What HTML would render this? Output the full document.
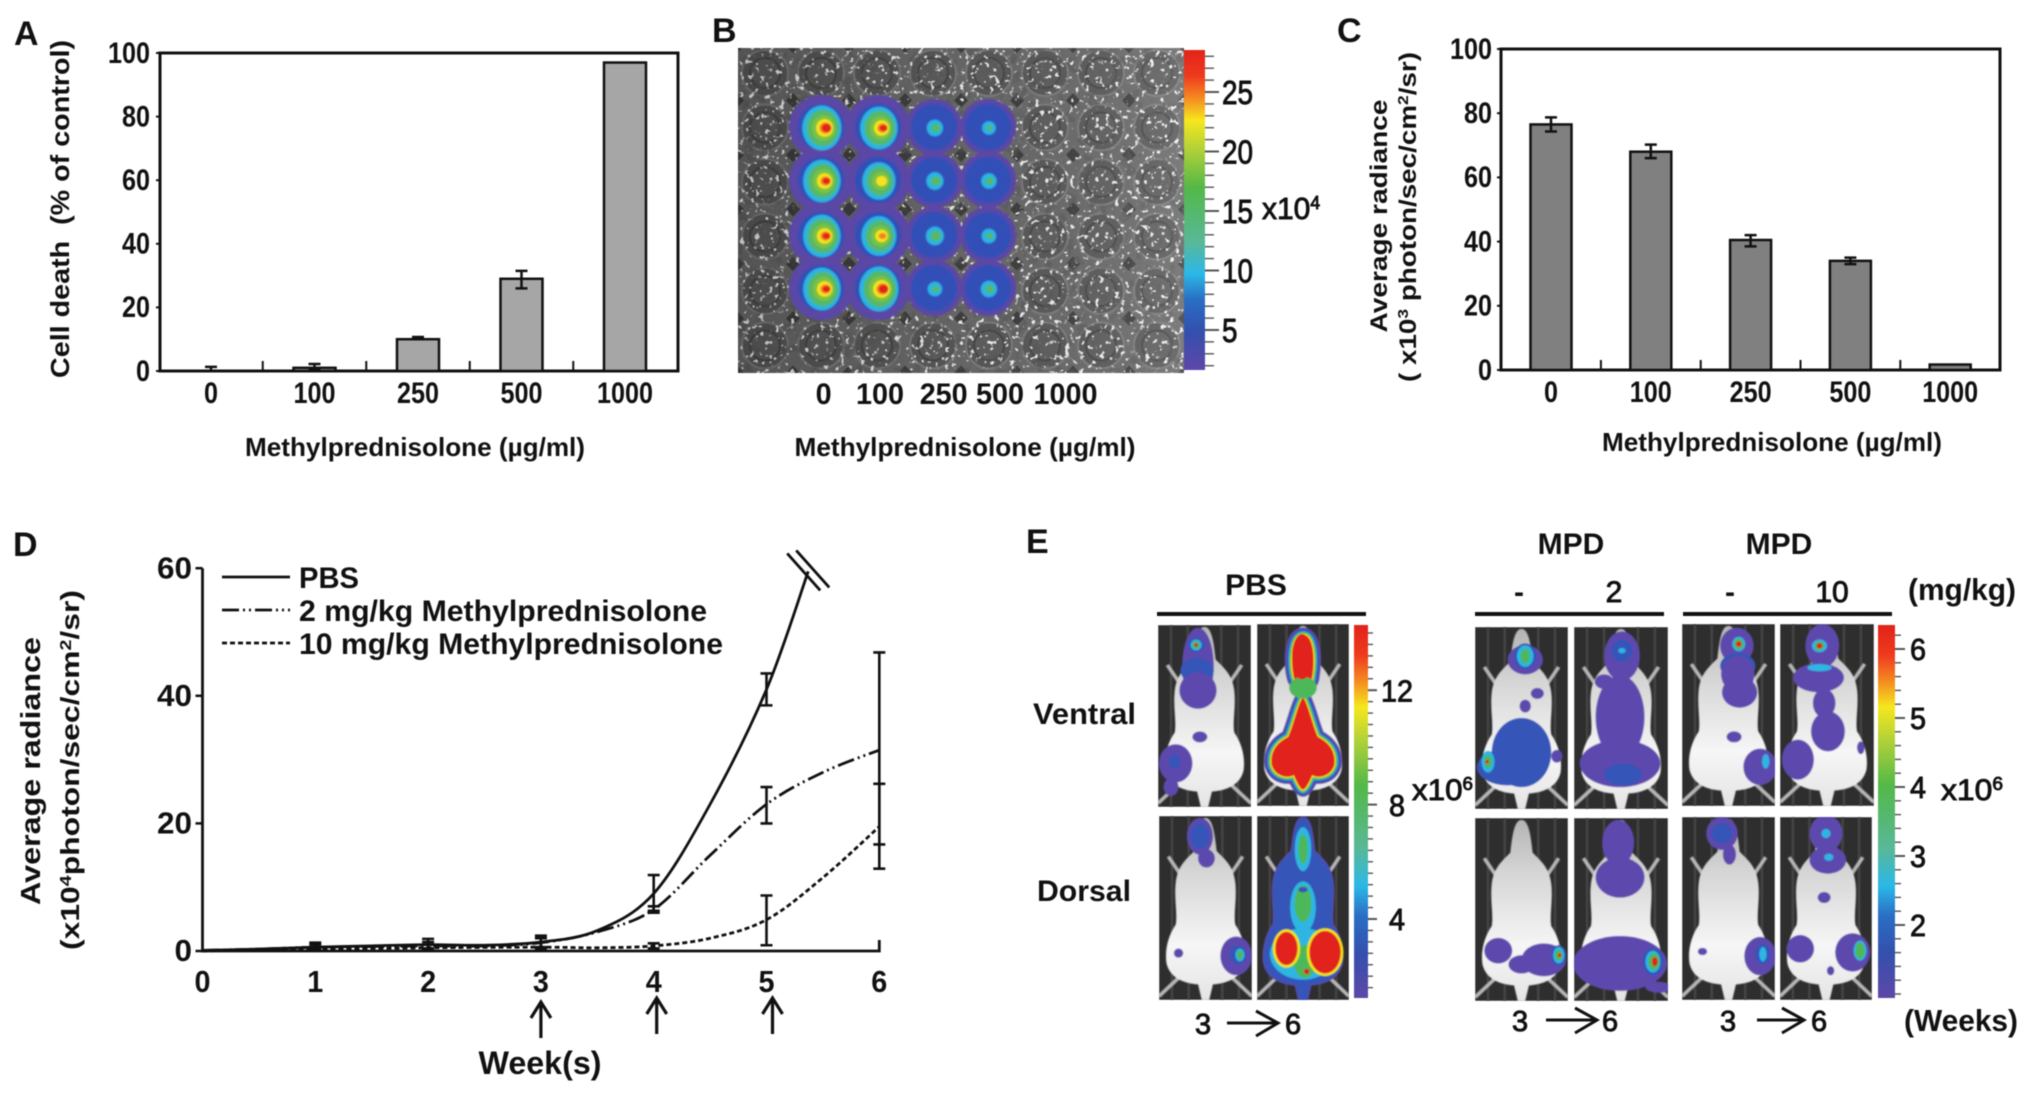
<!DOCTYPE html>
<html lang="en">
<head>
<meta charset="utf-8">
<title>Methylprednisolone figure</title>
<style>
html,body{margin:0;padding:0;background:#fff;width:2031px;height:1097px;overflow:hidden}
svg#fig{display:block;filter:blur(0.55px)}
text{font-family:"Liberation Sans",Arial,sans-serif;fill:#111}
.b{font-weight:700}
</style>
</head>
<body>
<svg id="fig" xmlns="http://www.w3.org/2000/svg" width="2031" height="1097" viewBox="0 0 2031 1097">
<defs>
<linearGradient id="rainbow" x1="0" y1="0" x2="0" y2="1">
<stop offset="0" stop-color="#e2231a"/><stop offset=".08" stop-color="#ee3a1e"/><stop offset=".15" stop-color="#f58a20"/><stop offset=".22" stop-color="#f6e71e"/><stop offset=".32" stop-color="#a9cf3a"/><stop offset=".43" stop-color="#54b848"/><stop offset=".6" stop-color="#58b898"/><stop offset=".7" stop-color="#2bb8e8"/><stop offset=".78" stop-color="#2a6ec4"/><stop offset=".88" stop-color="#3350ad"/><stop offset="1" stop-color="#5f47a8"/>
</linearGradient>
<linearGradient id="bodyGrad" x1="0" y1="0" x2="0" y2="1">
<stop offset="0" stop-color="#b4b4b4"/><stop offset=".3" stop-color="#d6d6d6"/><stop offset=".7" stop-color="#f6f6f6"/><stop offset="1" stop-color="#e4e4e4"/>
</linearGradient>
<linearGradient id="plateShade" x1="0" y1="0" x2="1" y2="0">
<stop offset="0" stop-color="#000" stop-opacity=".22"/><stop offset=".55" stop-color="#000" stop-opacity=".04"/><stop offset="1" stop-color="#fff" stop-opacity=".12"/>
</linearGradient>
<pattern id="wellPattern" patternUnits="userSpaceOnUse" x="737" y="46" width="56" height="54.5">
<rect width="56" height="54.5" fill="#6b6b6b"/>
<circle cx="28" cy="27" r="23" fill="#5a5a5a" stroke="#7d7d7d" stroke-width="2"/>
<circle cx="28" cy="27" r="15" fill="#5f5f5f" stroke="#484848" stroke-width="2"/>
<path d="M0 0L7 0L0 7ZM56 0L49 0L56 7ZM0 54.5L7 54.5L0 47ZM56 54.5L49 54.5L56 47Z" fill="#404040"/>
<g fill="#ddd"><circle cx="12" cy="10" r="1.4"/><circle cx="20" cy="18" r="1.1"/><circle cx="40" cy="8" r="1.3"/><circle cx="46" cy="20" r="1"/><circle cx="34" cy="24" r="1.5"/><circle cx="24" cy="36" r="1"/><circle cx="38" cy="40" r="1.4"/><circle cx="10" cy="38" r="1.2"/><circle cx="50" cy="46" r="1.1"/></g>
</pattern>
<filter id="speckLight" x="0" y="0" width="100%" height="100%"><feTurbulence type="fractalNoise" baseFrequency="0.2" numOctaves="2" seed="4"/><feColorMatrix type="matrix" values="0 0 0 0 1  0 0 0 0 1  0 0 0 0 1  7 7 0 0 -8.2"/></filter>
<filter id="speckDark" x="0" y="0" width="100%" height="100%"><feTurbulence type="fractalNoise" baseFrequency="0.09" numOctaves="2" seed="9"/><feColorMatrix type="matrix" values="0 0 0 0 0.1  0 0 0 0 0.1  0 0 0 0 0.1  5 5 0 0 -5.4"/></filter>
<filter id="soft" x="-5%" y="-5%" width="110%" height="110%"><feGaussianBlur stdDeviation="0.7"/></filter>
</defs>

<rect width="2031" height="1097" fill="#fff"/>

<!-- Panel letters -->
<text class="b" x="14" y="45" font-size="34">A</text>
<text class="b" x="712" y="42" font-size="34">B</text>
<text class="b" x="1337" y="42" font-size="34">C</text>
<text class="b" x="13" y="556" font-size="34">D</text>
<text class="b" x="1026" y="553" font-size="34">E</text>

<!-- Panel A titles -->
<g id="panelA"></g>
<text class="b" x="415" y="456" font-size="26" text-anchor="middle" textLength="340" lengthAdjust="spacingAndGlyphs">Methylprednisolone (µg/ml)</text>
<text class="b" transform="translate(69,209) rotate(-90)" font-size="26" text-anchor="middle" textLength="338" lengthAdjust="spacingAndGlyphs">Cell death &#160;(% of control)</text>

<!-- Panel B -->
<g id="panelB"></g>
<text class="b" x="965" y="456" font-size="26" text-anchor="middle" textLength="341" lengthAdjust="spacingAndGlyphs">Methylprednisolone (µg/ml)</text>
<text x="1262" y="219" font-size="31" stroke="#111" stroke-width=".9" textLength="58" lengthAdjust="spacingAndGlyphs">x10<tspan dy="-10" font-size="18">4</tspan></text>

<!-- Panel C -->
<g id="panelC"></g>
<text class="b" x="1772" y="451" font-size="26" text-anchor="middle" textLength="340" lengthAdjust="spacingAndGlyphs">Methylprednisolone (µg/ml)</text>
<text class="b" transform="translate(1387,216) rotate(-90)" font-size="24" text-anchor="middle" textLength="233" lengthAdjust="spacingAndGlyphs">Average radiance</text>
<text class="b" transform="translate(1416,217) rotate(-90)" font-size="24" text-anchor="middle" textLength="330" lengthAdjust="spacingAndGlyphs">( x10<tspan dy="-8" font-size="15">3</tspan><tspan dy="8"> photon/sec/cm</tspan><tspan dy="-8" font-size="15">2</tspan><tspan dy="8">/sr)</tspan></text>

<!-- Panel D -->
<g id="panelD"></g>
<text class="b" x="540" y="1074" font-size="32" text-anchor="middle" textLength="123" lengthAdjust="spacingAndGlyphs">Week(s)</text>
<text class="b" transform="translate(40,771) rotate(-90)" font-size="28" text-anchor="middle" textLength="268" lengthAdjust="spacingAndGlyphs">Average radiance</text>
<text class="b" transform="translate(79,770) rotate(-90)" font-size="26" text-anchor="middle" textLength="360" lengthAdjust="spacingAndGlyphs">(x10<tspan dy="-8" font-size="16">4</tspan><tspan dy="8">photon/sec/cm</tspan><tspan dy="-8" font-size="16">2</tspan><tspan dy="8">/sr)</tspan></text>
<line x1="222" y1="577" x2="290" y2="577" stroke="#111" stroke-width="2.8"/>
<line x1="222" y1="610" x2="290" y2="610" stroke="#111" stroke-width="2.8" stroke-dasharray="17 4 2 4 2 4"/>
<line x1="222" y1="643" x2="290" y2="643" stroke="#111" stroke-width="2.8" stroke-dasharray="5 3"/>
<text class="b" x="299" y="588" font-size="30" textLength="60" lengthAdjust="spacingAndGlyphs">PBS</text>
<text class="b" x="299" y="621" font-size="30" textLength="408" lengthAdjust="spacingAndGlyphs">2 mg/kg Methylprednisolone</text>
<text class="b" x="299" y="654" font-size="30" textLength="424" lengthAdjust="spacingAndGlyphs">10 mg/kg Methylprednisolone</text>

<!-- Panel E -->
<g id="panelE"></g>
<text class="b" x="1256" y="595" font-size="30" text-anchor="middle">PBS</text>
<text class="b" x="1571" y="554" font-size="30" text-anchor="middle">MPD</text>
<text class="b" x="1779" y="554" font-size="30" text-anchor="middle">MPD</text>
<text class="b" x="1519" y="602" font-size="30" text-anchor="middle">-</text>
<text x="1614" y="602" font-size="30" text-anchor="middle" stroke="#111" stroke-width=".9">2</text>
<text class="b" x="1730" y="602" font-size="30" text-anchor="middle">-</text>
<text x="1832" y="602" font-size="30" text-anchor="middle" stroke="#111" stroke-width=".9">10</text>
<text class="b" x="1908" y="600" font-size="31" textLength="108" lengthAdjust="spacingAndGlyphs">(mg/kg)</text>
<line x1="1157" y1="614" x2="1366" y2="614" stroke="#111" stroke-width="4"/>
<line x1="1475" y1="614" x2="1664" y2="614" stroke="#111" stroke-width="4"/>
<line x1="1683" y1="614" x2="1892" y2="614" stroke="#111" stroke-width="4"/>
<text class="b" x="1033" y="724" font-size="30" textLength="103" lengthAdjust="spacingAndGlyphs">Ventral</text>
<text class="b" x="1037" y="901" font-size="30" textLength="94" lengthAdjust="spacingAndGlyphs">Dorsal</text>
<text x="1412" y="800" font-size="30" stroke="#111" stroke-width=".9" textLength="61" lengthAdjust="spacingAndGlyphs">x10<tspan dy="-10" font-size="18">6</tspan></text>
<text x="1941" y="800" font-size="30" stroke="#111" stroke-width=".9" textLength="62" lengthAdjust="spacingAndGlyphs">x10<tspan dy="-10" font-size="18">6</tspan></text>
<text class="b" x="1904" y="1031" font-size="31" textLength="114" lengthAdjust="spacingAndGlyphs">(Weeks)</text>
<g>
<text x="1195" y="1034" font-size="29" stroke="#111" stroke-width=".9">3</text>
<path d="M1227 1023H1277M1256 1011L1278 1023L1256 1036" fill="none" stroke="#111" stroke-width="3"/>
<text x="1285" y="1034" font-size="29" stroke="#111" stroke-width=".9">6</text>
</g>
<g>
<text x="1512" y="1031" font-size="29" stroke="#111" stroke-width=".9">3</text>
<path d="M1546 1020H1596M1575 1008L1597 1020L1575 1033" fill="none" stroke="#111" stroke-width="3"/>
<text x="1602" y="1031" font-size="29" stroke="#111" stroke-width=".9">6</text>
</g>
<g>
<text x="1720" y="1031" font-size="29" stroke="#111" stroke-width=".9">3</text>
<path d="M1757 1020H1803M1782 1008L1804 1020L1782 1033" fill="none" stroke="#111" stroke-width="3"/>
<text x="1811" y="1031" font-size="29" stroke="#111" stroke-width=".9">6</text>
</g>
</svg>

<script>
/* ---------- Panel A data ---------- */
var doseCategories = ['0','100','250','500','1000'];
var cellDeathValues = [0,1,10,29,97];
var cellDeathErrHigh = [1.3,2.2,10.7,31.5,97];
var cellDeathErrLow = [0,0.4,10,26,97];
var cellDeathTicks = [0,20,40,60,80,100];
/* ---------- Panel B data ---------- */
var plateDoseLabels = ['0','100','250','500','1000'];
var plateReplicateA = [27.5,26.5,14,12.5];
var plateReplicateB = [26.5,24,14.5,13.5];
var plateReplicateC = [26.5,25,15,13];
var plateReplicateD = [26.5,27.5,13,14];
var plateBarLabels = [25,20,15,10,5];
/* ---------- Panel C data ---------- */
var radianceValues = [76.5,68,40.5,34,1.7];
var radianceErrHigh = [78.7,70.2,42,35,1.7];
var radianceErrLow = [74.3,66,38.5,33,1.7];
var radianceTicks = [0,20,40,60,80,100];
/* ---------- Panel D data ---------- */
var weekTicks = [0,1,2,3,4,5,6];
var growthTicks = [0,20,40,60];
var pbsWeeks = [0,0.5,1,1.5,2,2.5,3,3.5,4,4.5,5,5.37];
var pbsValues = [0.1,0.3,0.6,0.8,1,0.9,1.4,3.2,9,23,41,59.5];
var mpd2Weeks = [0,0.5,1,1.5,2,2.5,3,3.5,4,4.5,5,5.5,6];
var mpd2Values = [0.1,0.3,0.6,0.7,0.8,0.8,1.3,3,6.5,15,23,28,31.5];
var mpd10Weeks = [0,1,2,3,3.5,4,4.5,5,5.5,6];
var mpd10Values = [0,0.3,0.5,0.6,0.5,0.8,2,4.9,11.5,19.5];
var errorWeeksPbs = [1,2,3,4,5];
var pbsErrHigh = [1.3,1.9,2.4,11.9,43.5];
var pbsErrLow = [0.1,0.2,0.3,6.3,38.5];
var errorWeeksMpd2 = [1,2,3,4,5,6];
var mpd2ErrHigh = [1,1.4,2,7,25.7,46.8];
var mpd2ErrLow = [0.3,0.4,0.6,6,20,16.7];
var errorWeeksMpd10 = [4,5,6];
var mpd10ErrHigh = [1.2,8.7,26.2];
var mpd10ErrLow = [0.4,0.9,12.9];
var dosingWeeks = [3,4,5];
/* ---------- Panel E data: signal regions, [cx,cy,rx,ry,level] in photo units ---------- */
var pbsV3 = [[43,45,17,42,'P'],[42,50,18,14,'B'],[43,72,20,20,'P'],[45,123,8,6,'P'],[19,152,18,21,'P'],[18,150,6,8,'B'],[14,178,8,10,'P'],[41,22,9,8,'B'],[41,22,6,6,'C'],[41,22,4,4,'G'],[41,22,2,2,'R']];
var pbsV6Hot = [[50,70,15,12,'G'],[49,36,11,25,'R']];
var pbsD3 = [[44,22,14,20,'P'],[44,22,10,14,'B'],[51,46,9,10,'P'],[21,149,5,5,'P'],[83,152,17,21,'P'],[85,151,9,10,'B'],[87,151,5,7,'C'],[87,151,3,5,'G']];
var pbsD6 = [[50,36,9,24,'C'],[50,36,5,16,'G'],[50,99,14,28,'C'],[50,95,9,20,'G'],[50,80,5,3,'B'],[50,150,36,28,'C'],[52,158,12,18,'G'],[32,144,15,21,'Y'],[74,148,20,26,'Y'],[32,144,12,18,'R'],[74,148,17,23,'R'],[54,169,3,3,'R']];
var mpd2V3 = [[54,36,19,16,'P'],[54,32,12,14,'B'],[54,32,9,12,'C'],[54,32,5,8,'G'],[50,138,32,38,'B'],[35,154,33,20,'B'],[14,148,7,12,'C'],[14,148,4,7,'G'],[13,148,2,2,'R'],[67,73,7,6,'P'],[54,87,6,7,'P'],[88,142,6,7,'P']];
var mpd2V6 = [[51,32,19,27,'P'],[51,26,11,12,'B'],[51,26,4,3,'C'],[49,99,26,46,'P'],[49,150,43,26,'P'],[32,60,10,8,'P'],[52,162,20,12,'B']];
var mpd2D3 = [[25,145,15,14,'P'],[74,155,24,18,'P'],[50,160,14,10,'P'],[90,150,8,11,'B'],[90,150,6,9,'C'],[90,150,4,6,'G'],[91,150,2,2,'R']];
var mpd2D6 = [[47,27,17,25,'P'],[49,65,26,22,'P'],[49,159,50,30,'P'],[84,157,11,15,'B'],[84,157,8,12,'C'],[85,157,6,9,'G'],[86,157,3,5,'R'],[90,185,14,6,'P']];
var mpd10V3 = [[59,24,18,20,'P'],[60,46,19,14,'B'],[62,75,19,17,'P'],[60,55,18,20,'P'],[56,124,8,6,'P'],[84,157,18,20,'P'],[90,151,4,8,'C'],[61,22,7,8,'C'],[61,22,5,6,'G'],[61,22,3,3,'R']];
var mpd10V6 = [[45,24,18,24,'P'],[41,59,27,16,'P'],[47,87,12,16,'P'],[51,118,18,22,'P'],[19,149,17,22,'P'],[86,136,4,7,'P'],[42,48,13,4,'C'],[42,24,8,7,'C'],[42,24,5,5,'G'],[42,24,3,3,'R']];
var mpd10D3 = [[43,18,17,18,'P'],[43,18,11,11,'B'],[51,41,7,11,'P'],[22,147,5,4,'P'],[84,152,17,21,'P'],[87,150,8,11,'B'],[87,150,4,8,'C']];
var mpd10D6 = [[50,18,18,20,'P'],[52,47,20,15,'P'],[50,18,5,5,'C'],[53,44,5,4,'C'],[48,88,7,6,'P'],[22,144,15,15,'P'],[79,148,19,21,'P'],[87,146,7,11,'C'],[87,146,5,9,'G'],[55,168,4,5,'P']];
var pbsBarLabels = [12,8,4];
var mpdBarLabels = [6,5,4,3,2];

/* ---------- helpers ---------- */
var SVGNS = 'http://www.w3.org/2000/svg';
function mk(tag, attrs, parent){
  var n = document.createElementNS(SVGNS, tag);
  for (var k in attrs){ n.setAttribute(k, attrs[k]); }
  parent.appendChild(n);
  return n;
}
function label(parent, str, x, yc, fs, anchor, len, bold){
  var t = mk('text', {x:x, y:yc + fs*0.36, 'font-size':fs, 'text-anchor':anchor}, parent);
  if (bold){ t.setAttribute('font-weight','700'); } else { t.setAttribute('stroke','#111'); t.setAttribute('stroke-width','.9'); }
  if (len){ t.setAttribute('textLength',len); t.setAttribute('lengthAdjust','spacingAndGlyphs'); }
  t.textContent = str;
  return t;
}
function errorBar(parent, x, yHi, yLo, cap, w){
  return mk('path', {d:'M'+(x-cap)+' '+yHi+'H'+(x+cap)+'M'+x+' '+yHi+'V'+yLo+'M'+(x-cap)+' '+yLo+'H'+(x+cap), fill:'none', stroke:'#111', 'stroke-width':w}, parent);
}

/* ---------- bar chart builder ---------- */
function barChart(g, prefix, cfg){
  var box = mk('rect', {x:cfg.left, y:cfg.yTop, width:cfg.right-cfg.left, height:cfg.yBottom-cfg.yTop, fill:'none', stroke:'#111', 'stroke-width':3}, g);
  
  
  function yS(v){ return cfg.yBottom - v/100*(cfg.yBottom-cfg.yTop); }
  function xS(i){ return cfg.x0 + i*cfg.step; }
  cfg.ticks.forEach(function(v){
    var tk = mk('line', {x1:cfg.left-4, x2:cfg.left, y1:yS(v), y2:yS(v), stroke:'#111', 'stroke-width':2}, g);
    
    
    var tl = label(g, String(v), cfg.labelRight, yS(v)-1, 30, 'end', String(v).length*14, true);
    
    
  });
  doseCategories.forEach(function(c,i){
    var v = cfg.values[i];
    var r = mk('rect', {x:xS(i)-cfg.bw/2, y:yS(v), width:cfg.bw, height:yS(0)-yS(v), fill:cfg.fill, stroke:'#111', 'stroke-width':2.5}, g);
    
    
    if (cfg.hi[i] !== cfg.lo[i]){
      var e = errorBar(g, xS(i), yS(cfg.hi[i]), yS(cfg.lo[i]), 6, 2.5);
      
      
    }
    var tl = label(g, c, xS(i), cfg.yBottom+21, 30, 'middle', c.length*14, true);
    
    
    if (i < doseCategories.length-1){
      var sp = mk('line', {x1:xS(i)+cfg.step/2, x2:xS(i)+cfg.step/2, y1:cfg.yBottom-10, y2:cfg.yBottom, stroke:'#111', 'stroke-width':2}, g);
      
      
    }
  });
}
barChart(document.getElementById('panelA'), 'cell-death', {left:160,right:678,yTop:53,yBottom:371,x0:211,step:103.5,bw:42,fill:'#a6a6a6',values:cellDeathValues,hi:cellDeathErrHigh,lo:cellDeathErrLow,ticks:cellDeathTicks,labelRight:150});
barChart(document.getElementById('panelC'), 'radiance', {left:1501,right:2000,yTop:49,yBottom:370,x0:1551,step:99.8,bw:41,fill:'#808080',values:radianceValues,hi:radianceErrHigh,lo:radianceErrLow,ticks:radianceTicks,labelRight:1492});

/* ---------- colorbar builder ---------- */
function colorbar(g, prefix, x, w, yTop, yBottom, yOf, vMin, vMax, minorStep, labels, majorEnd, minorEnd, labelX, fs, anchor, digitW){
  var bar = mk('rect', {x:x, y:yTop, width:w, height:yBottom-yTop, fill:'url(#rainbow)'}, g);
  
  
  var n = Math.round((vMax-vMin)/minorStep);
  for (var i=0;i<=n;i++){
    var v = vMin + i*minorStep;
    var isMajor = labels.some(function(m){ return Math.abs(m-v) < 1e-6; });
    var t = mk('line', {x1:x+w, x2:isMajor?majorEnd:minorEnd, y1:yOf(v), y2:yOf(v), stroke:'#555', 'stroke-width':isMajor?2:1.4}, g);
    
    
  }
  labels.forEach(function(v){
    var tl = label(g, String(v), labelX, yOf(v), fs, anchor, String(v).length*digitW, false);
    
    
  });
}

/* ---------- Panel B ---------- */
(function(){
  var g = document.getElementById('panelB');
  var plate = mk('rect', {x:738,y:48,width:446,height:325,fill:'url(#wellPattern)'}, g);
  
  
  var dark = mk('rect', {x:738,y:48,width:446,height:325,filter:'url(#speckDark)',opacity:.55}, g);
  
  
  var light = mk('rect', {x:738,y:48,width:446,height:325,filter:'url(#speckLight)',opacity:.9}, g);
  
  
  var shade = mk('rect', {x:738,y:48,width:446,height:325,fill:'url(#plateShade)'}, g);
  
  
  var colX = [821,878,934,988];
  var rowY = [127,180,235,288];
  var rows = [plateReplicateA,plateReplicateB,plateReplicateC,plateReplicateD];
  var heat = mk('g', {filter:'url(#soft)'}, g);
  
  
  rows.forEach(function(row,r){ row.forEach(function(val,c){
    var halo = mk('circle', {cx:colX[c],cy:rowY[r],r:c<2?32:28,fill:'#5a47a6'}, heat);
    
    
  });});
  var levels = [[0,'#3350b8'],[8,'#2bb4e4'],[12,'#55b86a'],[17,'#7cc143'],[21,'#f3e41e'],[24,'#f58220'],[25.5,'#e2231a']];
  rows.forEach(function(row,r){ row.forEach(function(val,c){
    levels.forEach(function(l,li){
      if (val <= l[0]){ return; }
      var k = li === 0 ? 1 : (val-l[0])/20;
      var ring = mk('ellipse', {cx:colX[c]+(li===0?0:li*0.9), cy:rowY[r]+(li===0?0:1), rx:li===0?23:3+k*17, ry:li===0?23:2+k*21, fill:l[1]}, heat);
      
      
    });
  });});
  var tx = [823.6,880,943.7,1000,1065.5];
  plateDoseLabels.forEach(function(c,i){
    var tl = label(g, c, tx[i], 393, 30, 'middle', c.length*16, true);
    
    
  });
  colorbar(g, 'plate', 1184, 21, 50, 370, function(v){ return 330-(v-5)*11.9; }, 2, 28, 1, plateBarLabels, 1219, 1214, 1222, 33, 'start', 15.5);
})();

/* ---------- Panel D ---------- */
(function(){
  var g = document.getElementById('panelD');
  function xD(w){ return 202.5 + w*112.8; }
  function yD(v){ return 951 - v*6.38; }
  var axis = mk('path', {d:'M'+xD(0)+' '+yD(60)+'V'+yD(0)+'H'+xD(6)+'V'+(yD(0)-11), fill:'none', stroke:'#111', 'stroke-width':2.8}, g);
  
  
  growthTicks.forEach(function(v){
    var t = mk('line', {x1:xD(0)-7,x2:xD(0),y1:yD(v),y2:yD(v),stroke:'#111','stroke-width':2.5}, g);
    
    
    var tl = label(g, String(v), 192, yD(v)-1, 31, 'end', String(v).length*17.5, true);
    
    
  });
  weekTicks.forEach(function(w){
    var tl = label(g, String(w), xD(w), 981, 31, 'middle', 16, true);
    
    
  });
  function curve(xs, ys){
    var px = xs.map(xD), py = ys.map(yD), d = 'M'+px[0]+' '+py[0];
    for (var i=0;i<px.length-1;i++){
      var i0=Math.max(i-1,0), i3=Math.min(i+2,px.length-1);
      d += 'C'+(px[i]+(px[i+1]-px[i0])/6)+' '+(py[i]+(py[i+1]-py[i0])/6)+' '+(px[i+1]-(px[i3]-px[i])/6)+' '+(py[i+1]-(py[i3]-py[i])/6)+' '+px[i+1]+' '+py[i+1];
    }
    return d;
  }
  var l1 = mk('path', {d:curve(pbsWeeks,pbsValues),fill:'none',stroke:'#111','stroke-width':2.8}, g);
  
  
  var l2 = mk('path', {d:curve(mpd2Weeks,mpd2Values),fill:'none',stroke:'#111','stroke-width':2.8,'stroke-dasharray':'17 4 2 4 2 4'}, g);
  
  
  var l3 = mk('path', {d:curve(mpd10Weeks,mpd10Values),fill:'none',stroke:'#111','stroke-width':2.8,'stroke-dasharray':'5 3'}, g);
  
  
  errorWeeksPbs.forEach(function(w,i){
    var e = errorBar(g, xD(w), yD(pbsErrHigh[i]), yD(pbsErrLow[i]), 6, 2.6);
    
    
  });
  errorWeeksMpd2.forEach(function(w,i){
    var e = errorBar(g, xD(w), yD(mpd2ErrHigh[i]), yD(mpd2ErrLow[i]), 6, 2.6);
    
    
  });
  errorWeeksMpd10.forEach(function(w,i){
    var e = errorBar(g, xD(w), yD(mpd10ErrHigh[i]), yD(mpd10ErrLow[i]), 6, 2.6);
    
    
  });
  var endW = pbsWeeks[pbsWeeks.length-1], endV = pbsValues[pbsValues.length-1];
  var br = mk('path', {d:'M'+(xD(endW)-21)+' '+(yD(endV)-18)+'l33 37M'+(xD(endW)-12)+' '+(yD(endV)-21)+'l33 37',fill:'none',stroke:'#111','stroke-width':2.8}, g);
  
  
  dosingWeeks.forEach(function(w){
    var ax = xD(w) + (w-3)*3;
    var a = mk('path', {d:'M'+ax+' '+(w===3?1038:1034)+'V'+(w===3?1002:998)+'M'+(ax-10)+' '+(w===3?1018:1014)+'L'+ax+' '+(w===3?1002:998)+'L'+(ax+10)+' '+(w===3?1018:1014),fill:'none',stroke:'#111','stroke-width':3.2}, g);
    
    
  });
})();

/* ---------- Panel E ---------- */
(function(){
  var g = document.getElementById('panelE');
  var colors = {P:'#5d48ad',B:'#3555b8',C:'#2db5e2',G:'#4db85a',Y:'#f0e21e',R:'#e2201c'};
  var bodyD = 'M50 2C42 2 40 20 38 38C28 48 20 55 18 72C16 90 20 105 18 118C10 130 6 145 8 160C12 177 28 182 42 183L46 200L54 200L58 183C72 182 88 177 92 160C94 145 90 130 82 118C80 105 84 90 82 72C80 55 72 48 62 38C60 20 58 2 50 2Z';
  var legsD = 'M10 44L22 62M90 44L78 62M0 196L22 175M100 196L78 175';
  function photo(name, x, y, w, h, blobs, glow, layers){
    var s = mk('svg', {x:x,y:y,width:w,height:h,viewBox:'0 0 100 200',preserveAspectRatio:'none'}, g);
    
    
    var bg = mk('rect', {width:100,height:200,fill:'#2e2e2e',stroke:'#999','stroke-width':1}, s);
    
    
    var stripes = mk('path', {d:'M14 0V200M32 0V200M68 0V200M86 0V200',stroke:'#424242','stroke-width':3,fill:'none'}, s);
    
    
    var inner = mk('g', {filter:'url(#soft)'}, s);
    
    
    var lg = mk('path', {d:legsD,stroke:'#b5b5b5','stroke-width':4,fill:'none'}, inner);
    
    
    var body = mk('path', {d:bodyD,fill:'url(#bodyGrad)'}, inner);
    
    
    if (glow){
      layers.forEach(function(c){
        var gp = mk('path', {d:glow,fill:c[0],stroke:c[0],'stroke-width':c[1],'stroke-linejoin':'round'}, inner);
        
        
      });
    }
    blobs.forEach(function(b){
      var e = mk('ellipse', {cx:b[0],cy:b[1],rx:b[2],ry:b[3],fill:colors[b[4]]}, inner);
      
      
    });
  }
  var pbsGlow = 'M50 12C38 12 36 40 40 58C42 70 60 70 60 58C63 40 62 12 50 12ZM50 80C44 90 40 110 34 124C22 130 14 140 16 155C20 168 34 170 40 166C44 176 48 182 50 182C52 182 56 176 60 166C66 170 80 168 84 155C86 140 78 130 66 124C60 110 56 90 50 80Z';
  var hotLayers = [['#5d48ad',16],['#3555b8',12],['#2db5e2',8],['#4db85a',6],['#f0e21e',3],['#e2201c',0]];
  var coolLayers = [['#5d48ad',3],['#3555b8',0]];
  photo('pbs-ventral-week-3', 1158,625,93,182, pbsV3);
  photo('pbs-ventral-week-6', 1257,624,92,182, pbsV6Hot, pbsGlow, hotLayers);
  photo('pbs-dorsal-week-3', 1159,816,93,184, pbsD3);
  photo('pbs-dorsal-week-6', 1257,816,92,184, pbsD6, bodyD, coolLayers);
  photo('mpd-2-ventral-control', 1475,627,93,182, mpd2V3);
  photo('mpd-2-ventral-treated', 1574,627,94,182, mpd2V6);
  photo('mpd-2-dorsal-control', 1475,818,93,183, mpd2D3);
  photo('mpd-2-dorsal-treated', 1574,818,94,183, mpd2D6);
  photo('mpd-10-ventral-control', 1682,624,93,182, mpd10V3);
  photo('mpd-10-ventral-treated', 1780,624,94,182, mpd10V6);
  photo('mpd-10-dorsal-control', 1682,817,93,183, mpd10D3);
  photo('mpd-10-dorsal-treated', 1780,817,92,183, mpd10D6);
  colorbar(g, 'pbs', 1354, 14, 625, 998, function(v){ return 919-(v-4)*28.6; }, 1.6, 14, 0.4, pbsBarLabels, 1377, 1373, 1397, 31, 'middle', 16);
  colorbar(g, 'mpd', 1878, 17, 625, 998, function(v){ return 787-(v-4)*69; }, 1, 6.2, 0.2, mpdBarLabels, 1905, 1901, 1910, 31, 'start', 16);
})();
</script>
</body>
</html>
